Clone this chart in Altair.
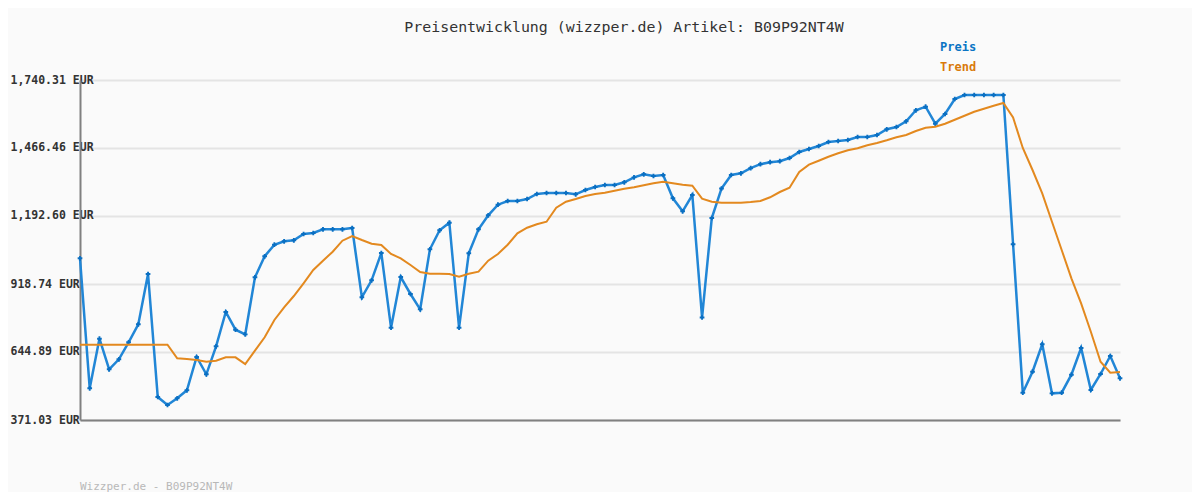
import altair as alt
import pandas as pd

# ---- data ----
preis = [
    1022.2, 498.7, 698.4, 575.2, 615.5, 683.9, 756.4, 959.0, 463.6, 431.4,
    458.4, 490.6, 624.7, 555.1, 667.8, 806.0, 734.7, 716.1, 945.7, 1030.3,
    1077.0, 1090.7, 1094.7, 1120.1, 1124.1, 1139.0, 1139.0, 1139.0, 1144.3, 865.2,
    933.6, 1043.6, 742.7, 946.9, 878.5, 816.8, 1058.5, 1135.0, 1165.6, 742.7,
    1042.4, 1139.0, 1195.4, 1238.1, 1253.0, 1253.0, 1261.1, 1281.2, 1285.2, 1285.2,
    1285.2, 1280.0, 1297.3, 1309.4, 1317.4, 1317.4, 1328.3, 1348.4, 1360.5, 1353.7,
    1357.7, 1263.9, 1211.5, 1277.2, 783.8, 1184.5, 1303.3, 1357.7, 1364.6, 1385.1,
    1401.2, 1409.3, 1413.3, 1426.2, 1450.3, 1462.4, 1474.5, 1490.6, 1494.6, 1498.7,
    1510.7, 1510.7, 1518.8, 1541.8, 1551.0, 1574.0, 1618.3, 1632.8, 1564.3, 1603.4,
    1663.8, 1679.9, 1679.9, 1679.9, 1679.9, 1679.9, 1078.6, 481.0, 565.5, 675.9,
    478.5, 481.0, 553.5, 661.0, 491.8, 556.3, 628.8, 539.0,
]
trend = [
    674.3, 674.3, 674.3, 674.3, 674.3, 674.3, 674.3, 674.3, 674.3, 674.3,
    619.5, 616.7, 612.7, 605.8, 609.8, 623.5, 623.5, 596.5, 650.1, 704.1,
    773.7, 824.9, 870.4, 921.6, 975.1, 1012.6, 1048.8, 1093.1, 1112.0, 1095.9,
    1081.0, 1075.8, 1039.6, 1022.2, 995.2, 967.1, 960.2, 960.2, 959.0, 948.1,
    960.2, 968.3, 1012.6, 1039.6, 1077.0, 1122.9, 1145.5, 1159.2, 1169.6, 1226.0,
    1250.2, 1261.1, 1273.1, 1281.2, 1286.4, 1294.5, 1302.5, 1308.2, 1316.2, 1324.3,
    1330.7, 1324.3, 1318.6, 1314.6, 1262.3, 1250.2, 1246.2, 1246.2, 1246.2, 1249.0,
    1253.0, 1267.9, 1289.2, 1306.6, 1369.8, 1399.2, 1415.3, 1431.4, 1445.1, 1457.2,
    1465.2, 1477.3, 1486.6, 1497.5, 1509.5, 1518.8, 1534.9, 1548.2, 1552.2, 1564.3,
    1580.4, 1596.5, 1612.6, 1624.7, 1636.8, 1647.7, 1589.3, 1466.4, 1377.8, 1284.0,
    1169.6, 1055.7, 941.7, 841.0, 726.6, 605.8, 561.5, 564.3,
]
y_ticks = [371.03, 644.89, 918.74, 1192.60, 1466.46, 1740.31]
title_text = "Preisentwicklung (wizzper.de) Artikel: B09P92NT4W"
legend_labels = ["Preis", "Trend"]
footer_text = "Wizzper.de - B09P92NT4W"

df = pd.DataFrame({"i": list(range(len(preis))), "preis": preis, "trend": trend})

MONO = "DejaVu Sans Mono"
BLUE_LINE = "#2186d6"
BLUE_MARK = "#0a6fc2"
ORANGE = "#e3891f"

x_enc = alt.X(
    "i:Q",
    scale=alt.Scale(domain=[0, len(preis) - 1], nice=False, zero=False),
    axis=alt.Axis(
        title=None, labels=False, ticks=False, grid=False,
        domain=True, domainColor="#808080", domainWidth=2,
    ),
)
y_axis = alt.Axis(
    title=None,
    values=y_ticks,
    labelExpr="format(datum.value, ',.2f') + ' EUR'",
    labelFont=MONO,
    labelFontSize=11.5,
    labelFontWeight="bold",
    labelColor="#333333",
    labelAlign="left",
    labelBaseline="middle",
    labelPadding=70,
    ticks=False,
    tickSize=0,
    domain=True,
    domainColor="#808080",
    domainWidth=2,
    grid=True,
    gridColor="#e4e4e4",
    gridWidth=2,
    labelOverlap=False,
)

base = alt.Chart(df)

preis_line = base.mark_line(color=BLUE_LINE, strokeWidth=2.5).encode(
    x=x_enc,
    y=alt.Y("preis:Q", scale=alt.Scale(domain=[371.03, 1740.31], nice=False, zero=False), axis=y_axis),
)
preis_pts = base.mark_point(shape="cross", filled=True, size=22, color=BLUE_MARK, opacity=1).encode(
    x="i:Q", y="preis:Q"
)
trend_line = base.mark_line(color=ORANGE, strokeWidth=2).encode(x="i:Q", y="trend:Q")

title = alt.Chart(pd.DataFrame({"t": [title_text]})).mark_text(
    font=MONO, fontSize=14.9, color="#333333", align="center", baseline="middle"
).encode(x=alt.value(544), y=alt.value(-52), text="t:N")

leg_preis = alt.Chart(pd.DataFrame({"t": [legend_labels[0]]})).mark_text(
    font=MONO, fontSize=12, fontWeight="bold", color="#0a74c4", align="left", baseline="middle"
).encode(x=alt.value(860), y=alt.value(-33), text="t:N")
leg_trend = alt.Chart(pd.DataFrame({"t": [legend_labels[1]]})).mark_text(
    font=MONO, fontSize=12, fontWeight="bold", color="#d97a0c", align="left", baseline="middle"
).encode(x=alt.value(860), y=alt.value(-13), text="t:N")

footer = alt.Chart(pd.DataFrame({"t": [footer_text]})).mark_text(
    font=MONO, fontSize=11, color="#b8b8b8", align="left", baseline="middle"
).encode(x=alt.value(0), y=alt.value(407), text="t:N")

chart = alt.layer(
    preis_line, preis_pts, trend_line, title, leg_preis, leg_trend, footer
).properties(
    width=1040,
    height=340,
    autosize=alt.AutoSizeParams(type="none"),
    padding={"left": 72, "top": 72, "right": 72, "bottom": 72},
    background="#fafafa",
).configure_view(stroke=None)

chart.save("out.html", embed_options={"renderer": "svg", "actions": False})
